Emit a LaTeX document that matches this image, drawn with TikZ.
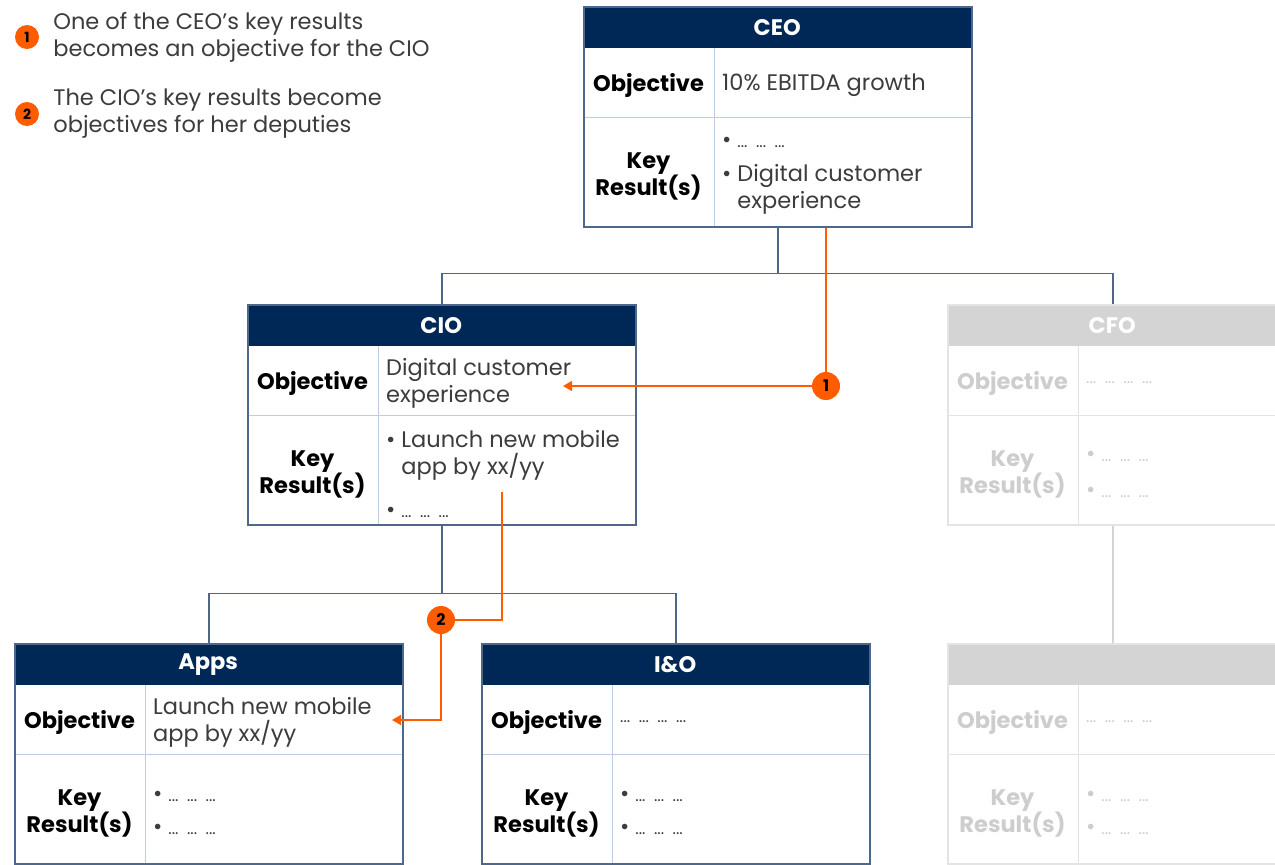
\documentclass[tikz,border=0pt]{standalone}
\usepackage{fontspec}
\setmainfont{Poppins}
\usetikzlibrary{arrows.meta, positioning}
\definecolor{navy}{RGB}{0,40,86}
\definecolor{okrorange}{RGB}{255,92,0}
\definecolor{frameblue}{RGB}{78,104,140}
\definecolor{celllines}{RGB}{190,204,220}
\definecolor{valuegray}{RGB}{60,60,60}
\definecolor{fadehead}{RGB}{212,212,212}
\definecolor{fadeline}{RGB}{228,228,228}
\definecolor{fadetext}{RGB}{205,205,205}

\newcommand{\okrfont}{\fontsize{22.5}{27}\selectfont}
\newcommand{\okrsmall}{\fontsize{16}{16}\selectfont}
\newcommand{\okritem}{\textbullet\ }
\newcommand{\okrindent}{\hphantom{\textbullet\ }}
\newcommand{\okrdots}{{\okrsmall ...\ \ ...\ \ ...}}
\newcommand{\okrdotsfour}{{\okrsmall ...\ \ ...\ \ ...\ \ ...}}

% one OKR card: name, left, top, width, look, title, objective, key results
\newcommand{\okrbox}[8]{%
  \fill[white] (#2,#3) rectangle (#2+#4,#3+220);
  \node[#5 head, minimum width=#4pt] (#1-head) at (#2,#3) {#6};
  \draw[#5 cell] (#2,#3+111) -- (#2+#4,#3+111)
                 (#2+131,#3+42) -- (#2+131,#3+220);
  \node[#5 label] (#1-obj) at (#2+65.5,#3+79) {Objective};
  \node[#5 label] (#1-kr) at (#2+65.5,#3+170) {Key\\Result(s)};
  \node[#5 value] (#1-objv) at (#2+139,#3+79) {#7};
  \node[#5 value] (#1-krv) at (#2+139,#3+170) {#8};
  \node[#5 frame, minimum width=#4pt] (#1) at (#2,#3) {};
}

\begin{document}
\begin{tikzpicture}[x=1pt, y=-1pt,
  okr head/.style={fill=navy, text=white, font=\okrfont\bfseries, minimum height=42pt, inner sep=0pt, anchor=north west},
  okr cell/.style={draw=celllines, line width=1pt},
  okr label/.style={font=\okrfont\bfseries, align=center, inner sep=0pt},
  okr value/.style={font=\okrfont, text=valuegray, align=left, anchor=west, inner sep=0pt},
  okr frame/.style={draw=frameblue, line width=1.6pt, minimum height=220pt, inner sep=0pt, anchor=north west},
  fade head/.style={okr head, fill=fadehead},
  fade cell/.style={draw=fadeline, line width=1pt},
  fade label/.style={okr label, text=fadetext},
  fade value/.style={okr value, text=fadetext},
  fade frame/.style={okr frame, draw=fadeline},
  link/.style={draw=frameblue, line width=1.6pt},
  fade link/.style={draw=fadehead, line width=1.6pt},
  flow/.style={draw=okrorange, line width=1.6pt},
  numdot/.style={circle, fill=okrorange, text=black, font=\fontsize{16}{16}\selectfont\bfseries, inner sep=0pt, minimum size=28pt},
  legend text/.style={font=\okrfont, text=valuegray, align=left, inner sep=0pt}]
  \useasboundingbox (0,0) rectangle (1275,865);

  % legend
  \node[numdot, minimum size=24pt, font=\fontsize{14}{14}\selectfont\bfseries] (leg1) at (27,37) {1};
  \node[legend text, right=14pt of leg1] (leg1-text) {One of the CEO's key results\\becomes an objective for the CIO};
  \node[numdot, minimum size=24pt, font=\fontsize{14}{14}\selectfont\bfseries] (leg2) at (27,114) {2};
  \node[legend text, right=14pt of leg2] (leg2-text) {The CIO's key results become\\objectives for her deputies};

  % cards
  \okrbox{ceo}{583}{6}{388}{okr}{CEO}{10\% EBITDA growth}
    {\okritem\okrdots\\[7pt]\okritem Digital customer\\\okrindent experience}
  \okrbox{cio}{247}{304}{388}{okr}{CIO}{Digital customer\\experience}
    {\okritem Launch new mobile\\\okrindent app by xx/yy\\[16pt]\okritem\okrdots}
  \okrbox{cfo}{947}{304}{330}{fade}{CFO}{\okrdotsfour}
    {\okritem\okrdots\\[9pt]\okritem\okrdots}
  \okrbox{apps}{14}{643}{388}{okr}{Apps}{Launch new mobile\\app by xx/yy}
    {\okritem\okrdots\\[6pt]\okritem\okrdots}
  \okrbox{io}{481}{643}{388}{okr}{I\&O}{\okrdotsfour}
    {\okritem\okrdots\\[6pt]\okritem\okrdots}
  \okrbox{cfodep}{947}{643}{330}{fade}{}{\okrdotsfour}
    {\okritem\okrdots\\[6pt]\okritem\okrdots}

  % reporting lines
  \draw[link] (ceo.south) -- ++(0,46) coordinate (ceojoin);
  \draw[link] (ceojoin) -| (cio.north);
  \draw[link] (ceojoin) -| (cfo.north);
  \draw[link] (cio.south) -- ++(0,68) coordinate (ciojoin);
  \draw[link] (ciojoin) -| (apps.north);
  \draw[link] (ciojoin) -| (io.north);
  \draw[fade link] (cfo.south) -- (cfodep.north);

  % cascading key results
  \node[numdot] (n1) at (826,386) {1};
  \coordinate (kr1) at (n1 |- ceo.south);
  \coordinate (obj1) at (563,386);
  \draw[flow] (kr1) -- (n1);
  \draw[flow, -{Triangle[length=9pt, width=10pt]}] (n1) -- (obj1);
  \node[numdot] (n2) at (441,620) {2};
  \coordinate (kr2) at (502,492);
  \coordinate (obj2) at (392,720);
  \draw[flow] (kr2) |- (n2);
  \draw[flow, -{Triangle[length=9pt, width=10pt]}] (n2) |- (obj2);
\end{tikzpicture}
\end{document}
